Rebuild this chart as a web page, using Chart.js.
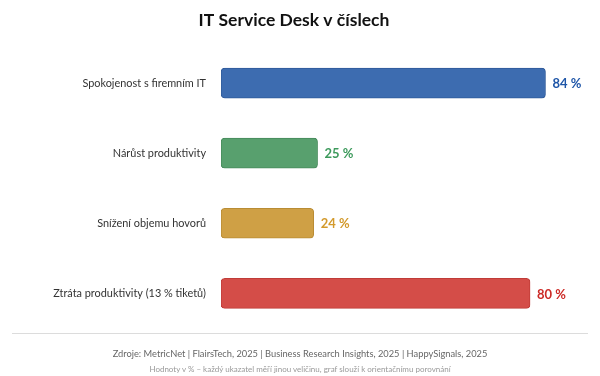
<!DOCTYPE html>
<html lang="cs">
<head>
<meta charset="utf-8">
<script src="https://cdn.jsdelivr.net/npm/chart.js@4.4.1/dist/chart.umd.min.js"></script>
<style>
  body { margin: 0; background: #fff; font-family: Lato, sans-serif; }
  #wrap { width: 600px; height: 350px; position: absolute; left: 0; top: 0; }
  .rule { position: absolute; left: 12px; right: 12px; top: 333px; border-top: 1px solid #dcdcdc; }
  .src { position: absolute; left: 0; right: 0; top: 348px; text-align: center; font-size: 9.3px; color: #666; }
  .note { position: absolute; left: 0; right: 0; top: 364px; text-align: center; font-size: 8px; color: #999; }
</style>
</head>
<body>
<div id="wrap"><canvas id="myChart"></canvas></div>
<div class="rule"></div>
<div class="src">Zdroje: MetricNet | FlairsTech, 2025 | Business Research Insights, 2025 | HappySignals, 2025</div>
<div class="note">Hodnoty v % – každý ukazatel měří jinou veličinu, graf slouží k orientačnímu porovnání</div>
<script>
const labels = ['Spokojenost s firemním IT', 'Nárůst produktivity', 'Snížení objemu hovorů', 'Ztráta produktivity (13 % tiketů)'];
const values = [84, 25, 24, 80];
const barColors = ['#3d6cb0', '#58a06e', '#cfa045', '#d44d48'];
const borderColors = ['#2f5a9a', '#468a5b', '#b98c34', '#c03c38'];
const labelColors = ['#1f56a8', '#3d9a5c', '#d39a2c', '#cc2a26'];

const ctx = document.getElementById('myChart').getContext('2d');

// simple value labels at the end of each bar
const endLabels = {
    id: 'endLabels',
    afterDatasetsDraw(chart) {
        const c = chart.ctx;
        const meta = chart.getDatasetMeta(0);
        c.save();
        c.font = 'bold 13px Lato, sans-serif';
        c.textBaseline = 'middle';
        c.textAlign = 'left';
        meta.data.forEach(function (bar, i) {
            c.fillStyle = labelColors[i];
            c.fillText(values[i] + ' %', bar.x + 7, bar.y + 1);
        });
        c.restore();
    }
};

new Chart(ctx, {
    type: 'bar',
    data: {
        labels: labels,
        datasets: [{
            data: values,
            backgroundColor: barColors,
            borderColor: borderColors,
            borderWidth: 1,
            borderRadius: 4,
            borderSkipped: false,
            barThickness: 30
        }]
    },
    options: {
        indexAxis: 'y',
        responsive: true,
        maintainAspectRatio: false,
        animation: false,
        layout: {
            padding: { left: 0, right: 12, top: 0, bottom: 2 }
        },
        scales: {
            x: {
                display: false,
                min: 0,
                max: 95
            },
            y: {
                grid: { display: false, drawTicks: false },
                border: { display: false },
                ticks: {
                    padding: 15,
                    color: '#333',
                    font: { size: 10.9, family: 'Lato, sans-serif' }
                },
                afterFit: function (scale) {
                    scale.width = 221;
                }
            }
        },
        plugins: {
            legend: { display: false },
            tooltip: { enabled: false },
            title: {
                display: true,
                text: 'IT Service Desk v číslech',
                color: '#111',
                font: { size: 17.5, weight: 'bold', family: 'Lato, sans-serif' },
                padding: { top: 10, bottom: 17 }
            }
        }
    },
    plugins: [endLabels]
});
</script>
</body>
</html>
